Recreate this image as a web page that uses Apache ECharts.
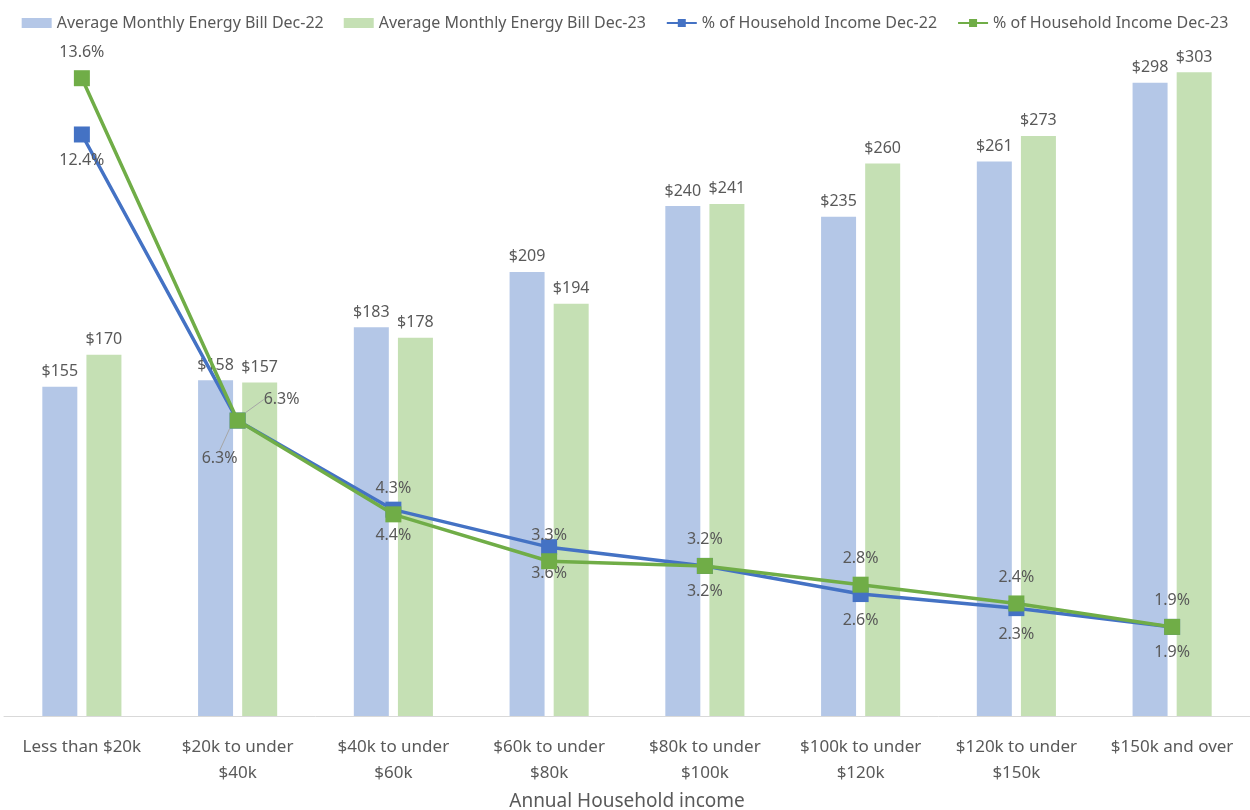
<!DOCTYPE html>
<html>
<head>
<meta charset="utf-8">
<script src="https://cdn.jsdelivr.net/npm/echarts@6/dist/echarts.min.js"></script>
<style>html,body{margin:0;padding:0;background:#fff}#c{width:1250px;height:810px}</style>
</head>
<body>
<div id="c"></div>
<script>
const categories = ['Less than $20k', '$20k to under\n$40k', '$40k to under\n$60k', '$60k to under\n$80k', '$80k to under\n$100k', '$100k to under\n$120k', '$120k to under\n$150k', '$150k and over'];
const billDec22 = [155, 158, 183, 209, 240, 235, 261, 298];
const billDec23 = [170, 157, 178, 194, 241, 260, 273, 303];
const pctDec22 = [12.4, 6.3, 4.4, 3.6, 3.2, 2.6, 2.3, 1.9];
const pctDec23 = [13.6, 6.3, 4.3, 3.3, 3.2, 2.8, 2.4, 1.9];

const FONT = 'Noto Sans';
const TXT = '#595959';
const LEADER = 1; // index of the point whose labels use leader lines
const withLeader = arr => arr.map((v, i) => i === LEADER
  ? { value: v, labelLine: { show: true, lineStyle: { color: '#A6A6A6', width: 1 } } }
  : v);

const chart = echarts.init(document.getElementById('c'));
chart.setOption({
  animation: false,
  textStyle: { fontFamily: FONT },
  legend: {
    top: 10, left: 'center', itemGap: 20, itemWidth: 30, itemHeight: 10,
    textStyle: { color: TXT, fontSize: 16, fontFamily: FONT },
    data: [
      { name: 'Average Monthly Energy Bill Dec-22', icon: 'rect' },
      { name: 'Average Monthly Energy Bill Dec-23', icon: 'rect' },
      { name: '% of Household Income Dec-22' },
      { name: '% of Household Income Dec-23' }
    ]
  },
  grid: { left: 4, right: 0, top: 36, bottom: 94, containLabel: false, outerBoundsMode: 'none' },
  xAxis: {
    type: 'category', data: categories,
    axisLine: { lineStyle: { color: '#D9D9D9', width: 1 } },
    axisTick: { show: false },
    axisLabel: { color: TXT, fontSize: 17, margin: 18, lineHeight: 26, fontFamily: FONT, interval: 0 },
    name: 'Annual Household income', nameLocation: 'middle', nameGap: 76,
    nameTextStyle: { color: TXT, fontSize: 19, fontFamily: FONT }
  },
  yAxis: [
    { type: 'value', min: 0, max: 320, show: false, splitLine: { show: false } },
    { type: 'value', min: 0, max: 14.5, show: false, splitLine: { show: false } }
  ],
  series: [
    {
      name: 'Average Monthly Energy Bill Dec-22', type: 'bar', data: billDec22,
      barWidth: 35, barGap: '26%',
      itemStyle: { color: '#B4C7E7' },
      label: { show: true, position: 'top', distance: 7, color: TXT, fontSize: 16, formatter: p => '$' + p.value }
    },
    {
      name: 'Average Monthly Energy Bill Dec-23', type: 'bar', data: billDec23,
      barWidth: 35,
      itemStyle: { color: '#C5E0B4' },
      label: { show: true, position: 'top', distance: 7, color: TXT, fontSize: 16, formatter: p => '$' + p.value }
    },
    {
      name: '% of Household Income Dec-22', type: 'line', yAxisIndex: 1, data: withLeader(pctDec22),
      symbol: 'rect', symbolSize: 16,
      lineStyle: { color: '#4472C4', width: 3.5 },
      itemStyle: { color: '#4472C4' },
      label: { show: true, position: 'bottom', distance: 10, color: TXT, fontSize: 16, formatter: p => p.value.toFixed(1) + '%' },
      labelLine: { show: false },
      labelLayout: p => p.dataIndex === LEADER ? { dx: -18, dy: 12 } : {},
      z: 3
    },
    {
      name: '% of Household Income Dec-23', type: 'line', yAxisIndex: 1, data: withLeader(pctDec23),
      symbol: 'rect', symbolSize: 16,
      lineStyle: { color: '#70AD47', width: 3.5 },
      itemStyle: { color: '#70AD47' },
      label: { show: true, position: 'top', distance: 10, color: TXT, fontSize: 16, formatter: p => p.value.toFixed(1) + '%' },
      labelLine: { show: false },
      labelLayout: p => p.dataIndex === LEADER ? { dx: 44, dy: 5 } : {},
      z: 4
    }
  ]
});
</script>
</body>
</html>
